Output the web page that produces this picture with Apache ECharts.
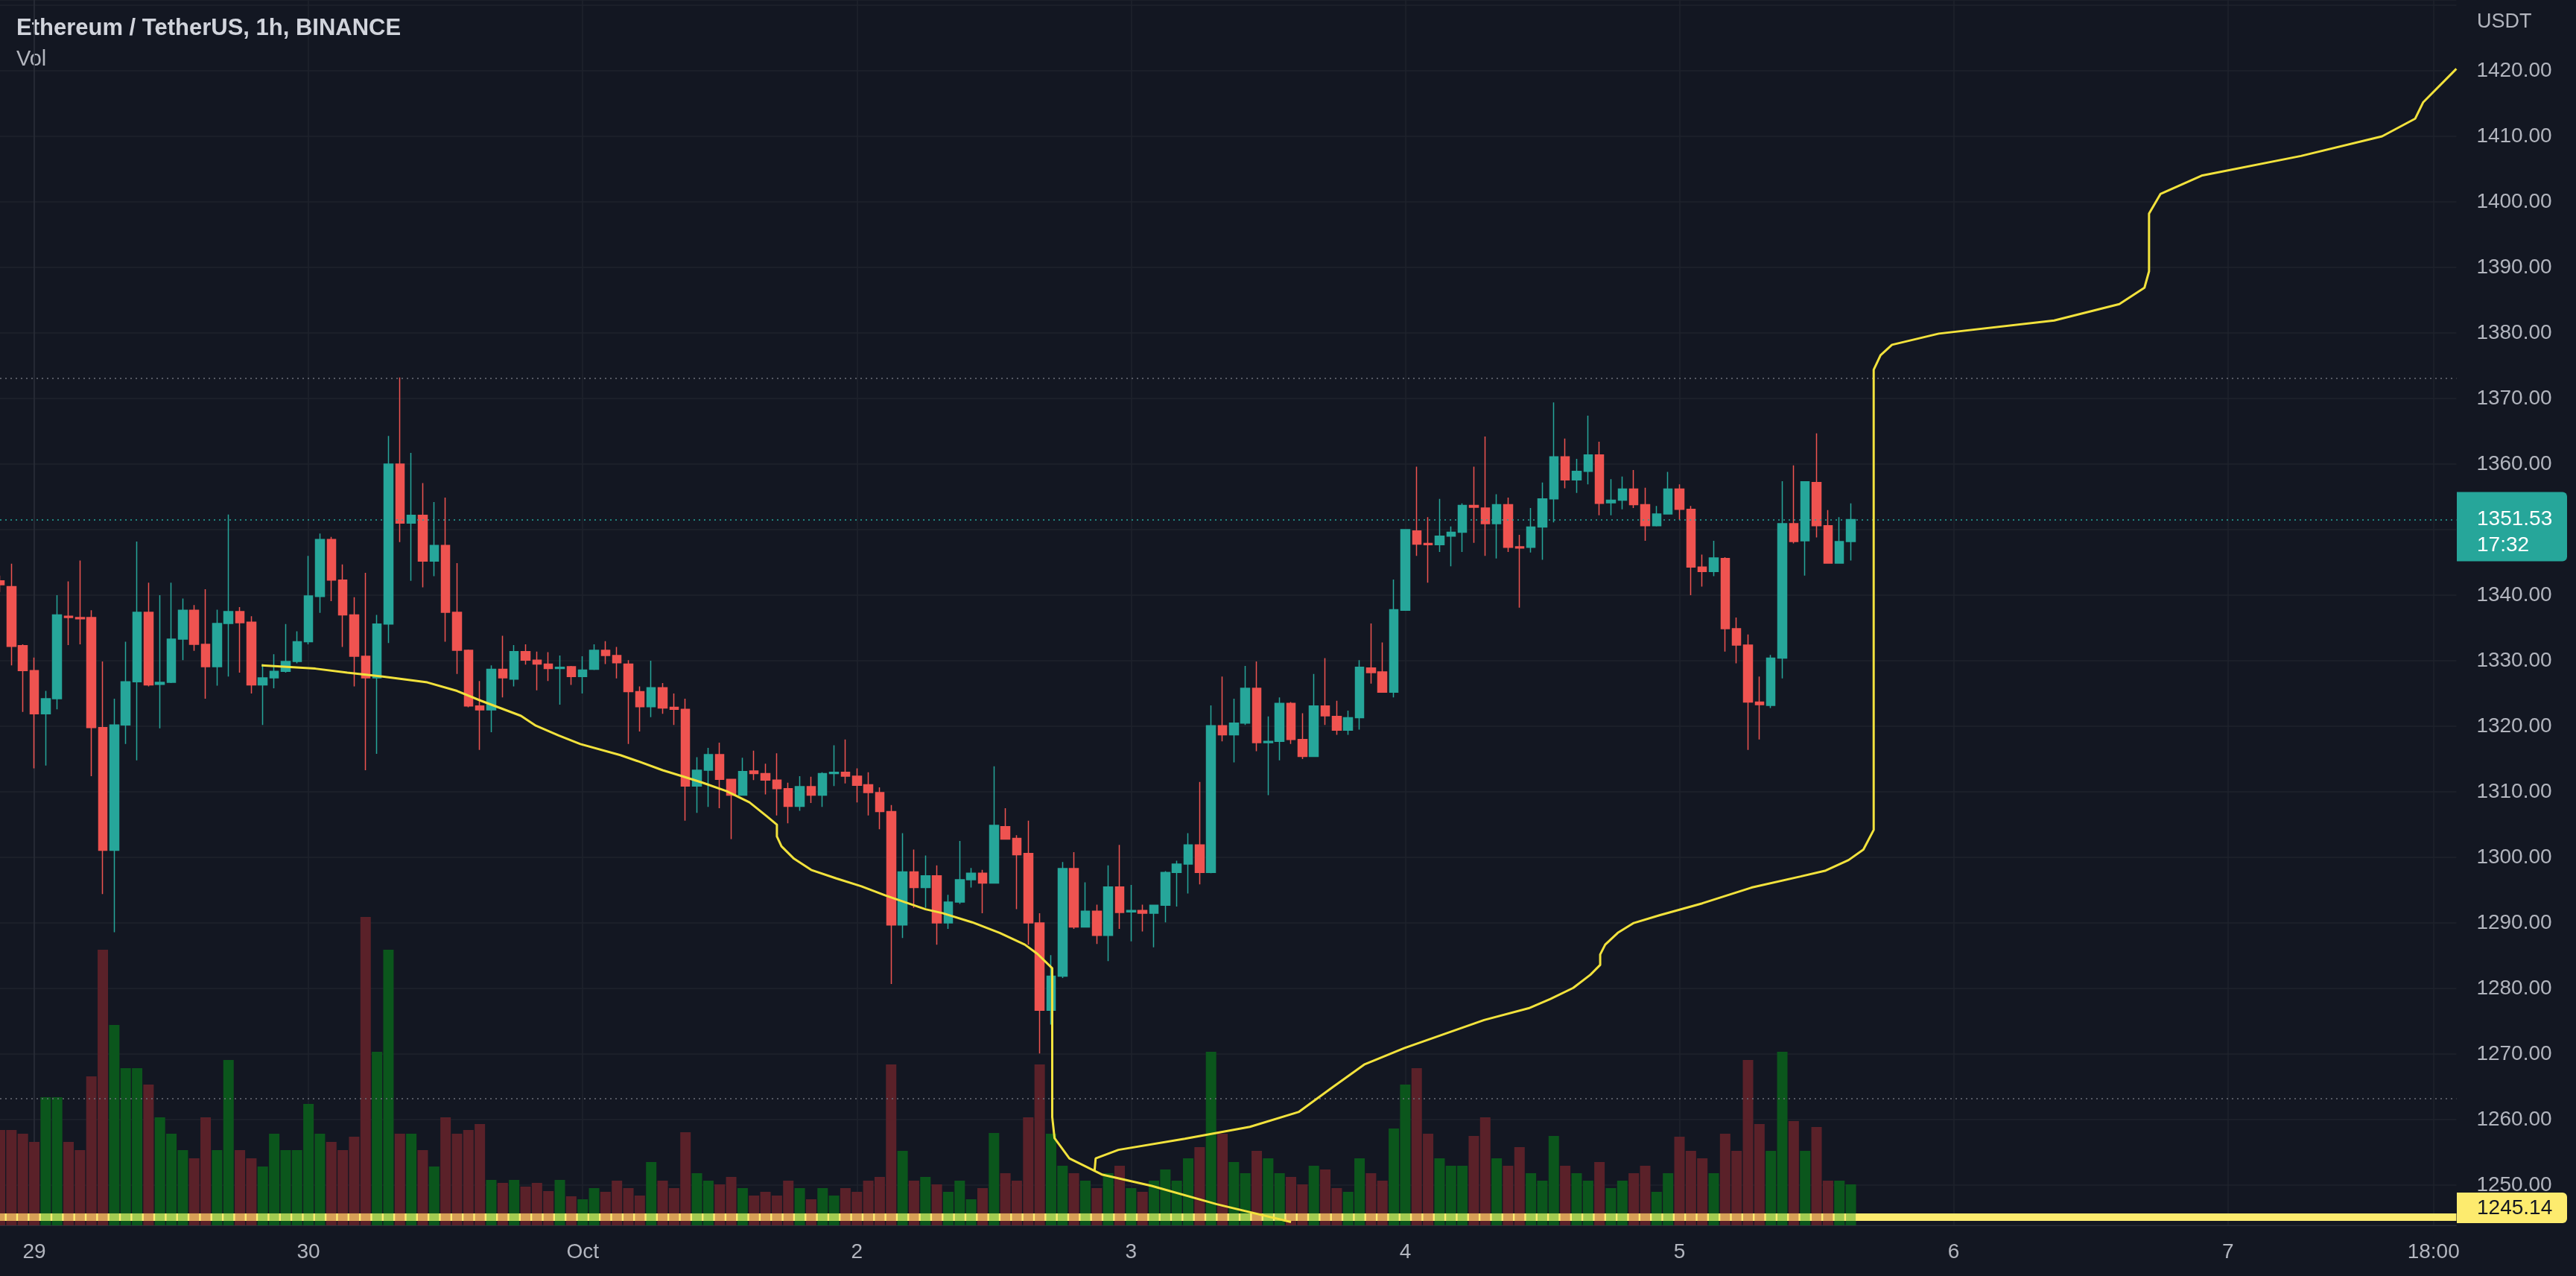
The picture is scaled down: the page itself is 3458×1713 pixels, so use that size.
<!DOCTYPE html>
<html>
<head>
<meta charset="utf-8">
<script src="https://cdn.jsdelivr.net/npm/echarts@6/dist/echarts.min.js"></script>
<style>
html,body{margin:0;padding:0;background:#131722;}
#c{width:3458px;height:1713px;}
</style>
</head>
<body>
<div id="c"></div>
<script>
// ---- data ----
// hour offsets from 29 Sep 00:00 ; first candle = -3 (28 Sep 21:00)
const firstHour = -3;
const lastHour = 212;
// candles: [open, high, low, close]
const candles = [
[1342.2,1343.0,1340.5,1341.6],
[1341.3,1344.8,1329.3,1332.2],[1332.3,1332.5,1322.2,1328.5],[1328.5,1330.5,1313.6,1321.9],[1321.9,1325.4,1314.0,1324.2],
[1324.2,1340.0,1322.6,1337.0],[1336.8,1342.1,1332.4,1336.6],[1336.6,1345.3,1332.5,1336.4],[1336.6,1337.7,1312.4,1319.8],
[1319.8,1329.9,1294.4,1301.1],[1301.1,1324.2,1288.6,1320.2],[1320.2,1332.9,1317.3,1326.8],[1326.8,1348.2,1314.8,1337.4],
[1337.4,1341.9,1326.1,1326.3],[1326.4,1340.0,1319.7,1326.7],[1326.7,1341.9,1326.6,1333.3],[1333.3,1339.5,1330.1,1337.7],
[1337.7,1338.5,1331.5,1332.5],[1332.5,1340.9,1324.2,1329.1],[1329.1,1337.8,1326.2,1335.7],[1335.7,1352.3,1327.6,1337.5],
[1337.5,1338.2,1328.2,1335.8],[1335.9,1336.8,1325.0,1326.3],[1326.3,1329.5,1320.2,1327.4],[1327.4,1331.0,1325.8,1328.4],
[1328.4,1335.6,1328.2,1329.9],[1329.9,1334.5,1329.6,1332.9],[1332.9,1346.0,1332.5,1339.9],[1339.8,1349.4,1337.3,1348.5],
[1348.5,1348.9,1339.1,1342.3],[1342.3,1344.7,1332.1,1337.0],[1337.0,1339.7,1326.1,1330.7],[1330.7,1343.4,1313.3,1327.4],
[1327.4,1337.0,1315.8,1335.6],[1335.6,1364.3,1332.7,1360.0],[1360.0,1373.2,1348.1,1351.0],[1351.0,1361.7,1342.2,1352.2],
[1352.2,1357.1,1341.2,1345.2],[1345.2,1354.2,1342.9,1347.6],[1347.6,1354.9,1332.9,1337.4],[1337.4,1344.9,1328.0,1331.6],
[1331.6,1331.7,1322.9,1323.1],[1323.1,1326.9,1316.4,1322.5],[1322.5,1329.3,1319.1,1328.7],[1328.7,1333.8,1324.4,1327.4],
[1327.2,1332.4,1326.1,1331.4],[1331.4,1332.5,1329.4,1330.1],[1330.1,1331.4,1325.5,1329.5],[1329.5,1331.3,1326.9,1328.8],
[1328.8,1330.8,1323.3,1329.0],[1329.1,1329.2,1326.3,1327.6],[1327.6,1330.7,1325.0,1328.6],[1328.7,1332.5,1328.6,1331.6],
[1331.6,1333.0,1329.5,1330.8],[1330.8,1332.1,1327.3,1329.7],[1329.5,1330.1,1317.3,1325.3],[1325.3,1326.1,1319.2,1323.0],
[1323.0,1330.0,1321.4,1325.9],[1325.9,1326.6,1321.9,1322.8],[1322.9,1325.0,1320.2,1322.6],[1322.6,1324.2,1305.6,1310.9],
[1310.9,1315.3,1306.8,1313.3],[1313.3,1316.7,1307.7,1315.7],[1315.7,1317.5,1307.5,1311.9],[1311.9,1312.0,1302.8,1309.5],
[1309.5,1315.2,1309.4,1313.1],[1313.2,1316.3,1311.8,1312.8],[1312.8,1314.3,1309.6,1311.8],[1311.8,1315.9,1306.4,1310.5],
[1310.5,1311.4,1305.2,1307.8],[1307.8,1312.4,1307.1,1310.8],[1310.8,1312.3,1308.3,1309.5],[1309.5,1313.0,1307.7,1312.8],
[1312.8,1317.1,1310.9,1313.0],[1313.0,1318.0,1311.3,1312.4],[1312.4,1313.6,1308.4,1311.0],[1311.1,1313.0,1306.4,1309.9],
[1309.9,1310.7,1304.3,1307.0],[1307.0,1308.0,1280.7,1289.7],[1289.7,1303.7,1287.7,1297.8],[1297.8,1301.2,1292.3,1295.4],
[1295.4,1300.3,1292.3,1297.2],[1297.2,1298.8,1286.7,1290.0],[1290.0,1294.3,1289.1,1293.2],[1293.2,1302.5,1292.9,1296.6],
[1296.6,1298.4,1295.4,1297.6],[1297.6,1298.1,1291.5,1296.1],[1296.1,1313.9,1296.0,1304.9],[1304.7,1307.5,1302.7,1302.8],
[1302.9,1303.4,1292.1,1300.4],[1300.6,1305.6,1286.7,1290.0],[1290.0,1291.5,1270.1,1276.7],[1276.7,1285.1,1274.5,1281.9],
[1281.9,1299.3,1281.6,1298.3],[1298.3,1300.8,1289.1,1289.4],[1289.4,1296.2,1289.4,1291.8],[1291.8,1292.8,1286.8,1288.1],
[1288.1,1298.8,1284.2,1295.5],[1295.5,1301.9,1289.1,1291.6],[1291.7,1295.8,1287.2,1291.9],[1291.9,1292.8,1288.7,1291.5],
[1291.5,1292.8,1286.3,1292.7],[1292.7,1297.9,1290.1,1297.7],[1297.7,1299.5,1292.5,1299.0],[1299.0,1303.7,1294.5,1301.9],
[1301.9,1311.5,1295.9,1297.7],[1297.7,1323.2,1297.6,1320.1],[1320.1,1327.6,1317.7,1318.7],[1318.7,1324.2,1314.5,1320.5],
[1320.5,1329.2,1320.2,1325.8],[1325.8,1329.9,1316.2,1317.5],[1317.5,1321.5,1309.5,1317.7],[1317.7,1324.4,1314.8,1323.5],
[1323.5,1323.7,1317.3,1318.0],[1318.0,1322.0,1315.0,1315.4],[1315.4,1328.0,1315.4,1323.1],[1323.1,1330.4,1320.2,1321.6],
[1321.5,1323.9,1318.7,1319.4],[1319.4,1322.4,1318.7,1321.3],[1321.3,1330.1,1319.5,1329.0],[1328.9,1335.7,1326.5,1328.2],
[1328.3,1332.8,1325.2,1325.2],[1325.2,1342.4,1324.4,1337.8],[1337.7,1350.1,1337.7,1350.0],[1349.8,1359.6,1346.0,1347.8],
[1347.9,1351.9,1341.9,1347.7],[1347.7,1354.7,1346.6,1349.0],[1349.0,1350.5,1344.4,1349.6],[1349.6,1354.0,1346.6,1353.7],
[1353.7,1359.6,1348.0,1353.4],[1353.3,1364.2,1346.0,1350.9],[1350.9,1355.4,1345.6,1353.8],[1353.8,1354.9,1346.6,1347.3],
[1347.4,1349.2,1338.1,1347.2],[1347.3,1353.3,1346.5,1350.4],[1350.4,1357.2,1345.4,1354.7],[1354.7,1369.4,1351.1,1361.1],
[1361.1,1363.9,1356.3,1357.6],[1357.6,1360.8,1355.6,1358.9],[1358.9,1367.4,1356.9,1361.4],[1361.4,1363.4,1352.2,1354.0],
[1354.1,1357.7,1352.2,1354.5],[1354.5,1358.1,1353.1,1356.2],[1356.2,1359.1,1353.3,1353.8],[1353.8,1356.4,1348.3,1350.6],
[1350.6,1353.6,1350.5,1352.4],[1352.4,1358.8,1352.4,1356.2],[1356.2,1356.9,1351.5,1353.1],[1353.1,1353.6,1340.0,1344.3],
[1344.3,1346.2,1341.3,1343.6],[1343.6,1348.3,1342.9,1345.7],[1345.6,1345.8,1331.4,1334.9],[1334.9,1336.6,1329.6,1332.4],
[1332.4,1334.0,1316.4,1323.7],[1323.7,1327.6,1318.0,1323.3],[1323.2,1330.9,1322.8,1330.4],[1330.4,1357.4,1327.3,1350.9],
[1350.9,1359.8,1347.9,1348.2],[1348.3,1357.3,1343.0,1357.3],[1357.2,1364.7,1348.8,1350.6],[1350.6,1353.0,1344.9,1344.9],
[1344.9,1351.9,1344.9,1348.2],[1348.2,1354.0,1345.3,1351.53]
];
const volumes = [
12.8,12.8,12.3,11.2,17.2,17.2,11.2,10.1,20.0,37.0,26.9,21.1,21.1,18.9,14.5,12.3,10.1,9.0,14.5,10.1,22.2,10.1,9.0,7.9,12.3,10.1,10.1,
16.3,12.3,11.2,10.1,11.9,41.4,23.3,37.0,12.3,12.3,10.1,7.9,14.5,12.3,12.8,13.6,6.1,5.7,6.1,5.2,5.7,4.6,6.1,3.9,3.5,
5,4.5,6,5,4,8.5,6,5,12.5,7,6,5.5,6.5,5,4,4.5,4,6,5,3.5,5,4,5,4.5,6,6.5,21.6,10,6,6.5,5.5,4.5,6,3.5,5,12.4,7,6,14.5,21.6,12.3,
8,7,6,5,7,8,5,4.5,6,7.5,6,9,10.5,23.3,12.3,8.5,7,10,9,7,6.5,5.5,8,7.5,5,4.5,9,7,6,13,18.9,21.1,12.3,9,8,8,12,14.5,9,8,10.5,7,
6,12,8,7,6,8.5,5,6,7,8,4.5,7,11.9,10,9,7,12.3,10,22.2,13.6,10,23.3,14,10,13.2,6,6,5.5
];
// yellow curve, [hour, price]
const curveA = [
[19.9,1329.3],[24.6,1328.8],[27.4,1328.2],[30.5,1327.6],[34.4,1326.7],[37.0,1325.4],[39.1,1323.9],[42.6,1321.6],[43.9,1320.1],
[45.9,1318.6],[47.8,1317.3],[51.3,1315.6],[52.8,1314.7],[55.0,1313.3],[56.7,1312.4],[58.5,1311.4],[60.6,1310.1],[62.6,1308.4],
[64.1,1306.3],[65.0,1305.0],[65.0,1303.2],[65.4,1301.7],[66.5,1299.8],[68.0,1298.1],[70.2,1296.8],[72.4,1295.6],[74.5,1294.2],
[78.0,1292.1],[79.5,1291.5],[82.1,1290.1],[84.5,1288.5],[86.7,1286.7],[87.8,1285.3],[89.1,1283.1],[89.1,1260.4],[89.3,1257.2],
[90.6,1254.1],[93.5,1251.6],[97.8,1249.9],[103.5,1247.1],[110,1244.4]
];
const curveB = [
[92.8,1252.1],[92.9,1254.1],[94.9,1255.4],[100.7,1257.1],[106.4,1258.9],[110.7,1261.2],[113.6,1264.9],[116.4,1268.4],
[119.9,1270.9],[126.9,1275.2],[130.8,1277.0],[132.7,1278.4],[134.7,1280.1],[136.2,1282.1],[137.06,1283.6],[137.06,1285.2],
[137.5,1286.7],[138.6,1288.5],[140.0,1290.0],[142.3,1291.2],[146.0,1293.0],[150.3,1295.4],[154.6,1297.1],[156.8,1298.0],
[158.8,1299.6],[160.1,1301.2],[161.0,1304.2],[161.0,1374.4],[161.6,1376.6],[162.6,1378.2],[166.7,1379.9],[176.8,1381.9],[182.5,1384.4],
[184.7,1386.9],[185.1,1389.4],[185.1,1398.2],[186.1,1401.2],[189.7,1404.0],[198.4,1407.0],[205.5,1410.0],[208.4,1412.7],
[209.1,1415.2],[212.0,1420.3]
];
const tickLabels = {0:'29',24:'30',48:'Oct',72:'2',96:'3',120:'4',144:'5',168:'6',192:'7',210:'18:00'};
const lastPrice = 1351.53;
const countdown = '17:32';
const bandPrice = 1245.14;
const dottedGrey = [1373.1, 1263.2];
const title = 'Ethereum / TetherUS, 1h, BINANCE';

// ---- build ----
const cats = [];
for (let h = firstHour; h <= lastHour; h++) cats.push(h);
const UP = '#26a69a', DOWN = '#ef5350';
const kData = candles.map(r => [r[0], r[3], r[2], r[1]]);
const isUp = candles.map(r => r[3] >= r[0]);
const volData = volumes.map((v, i) => ({value: v, itemStyle: {color: isUp[i] ? '#0b561c' : '#5a2129'}}));
const bandRects = candles.map((r, i) => ({value: [i, bandPrice], itemStyle: {color: isUp[i] ? '#8bc34a' : '#cd8c50'}}));

const chart = echarts.init(document.getElementById('c'), null, {renderer: 'canvas'});
const FONT = 'Liberation Sans';
const gridLeft = -3.76, gridRight = 3458 - 3297.4;
const option = {
  animation: false,
  backgroundColor: '#131722',
  textStyle: {fontFamily: FONT},
  grid: {left: gridLeft, right: gridRight, top: 0, bottom: 1713 - 1645},
  xAxis: [{
    type: 'category', data: cats, boundaryGap: false,
    axisLine: {show: true, lineStyle: {color: '#2a2e39', width: 1}},
    axisTick: {show: false},
    axisLabel: {
      interval: (i, v) => tickLabels[v] !== undefined,
      formatter: v => tickLabels[v] || '',
      color: '#b2b5be', fontSize: 28, margin: 22, fontFamily: FONT
    },
    splitLine: {show: true, interval: (i, v) => tickLabels[v] !== undefined, lineStyle: {color: '#1f232d', width: 1.5}}
  }, {
    type: 'value', min: firstHour, max: lastHour, show: false
  }],
  yAxis: [{
    type: 'value', position: 'right', min: 1243.88, max: 1430.79,
    minInterval: 10, maxInterval: 10, splitNumber: 19, scale: true,
    axisLine: {show: true, lineStyle: {color: '#2a2e39', width: 1.5}},
    axisTick: {show: false},
    axisLabel: {
      showMinLabel: false, showMaxLabel: false,
      formatter: v => (v > 1425 || v < 1249) ? '' : v.toFixed(2),
      color: '#b2b5be', fontSize: 28, margin: 27, fontFamily: FONT, align: 'left'
    },
    splitLine: {show: true, lineStyle: {color: '#1f232d', width: 1.5}}
  }, {
    type: 'value', min: 0, max: 164.5, show: false, splitLine: {show: false}
  }],
  series: [
    {type: 'bar', name: 'Vol', xAxisIndex: 0, yAxisIndex: 1, data: volData, barWidth: 14, z: 1},
    {type: 'candlestick', name: 'ETHUSDT', xAxisIndex: 0, yAxisIndex: 0, data: kData, barWidth: 12, z: 3,
      itemStyle: {color: UP, color0: DOWN, borderColor: UP, borderColor0: DOWN, borderWidth: 1.5},
      markLine: {
        silent: true, symbol: ['none', 'none'], label: {show: false},
        data: [
          {yAxis: dottedGrey[0], lineStyle: {color: '#6d707a', width: 1.5, type: [2, 5]}},
          {yAxis: dottedGrey[1], lineStyle: {color: '#6d707a', width: 1.5, type: [2, 5]}},
          {yAxis: lastPrice, lineStyle: {color: UP, width: 1.5, type: [2, 5]}}
        ]
      }
    },
    {type: 'line', xAxisIndex: 1, yAxisIndex: 0, data: [[firstHour, bandPrice], [lastHour, bandPrice]],
      symbol: 'none', lineStyle: {color: '#fdeb6e', width: 10}, z: 4, silent: true},
    {type: 'scatter', xAxisIndex: 0, yAxisIndex: 0, data: bandRects, symbol: 'rect', symbolSize: [13, 10], z: 5, silent: true},
    {type: 'line', xAxisIndex: 1, yAxisIndex: 0, data: curveA, symbol: 'none', lineStyle: {color: '#f2e23c', width: 3}, z: 6, silent: true},
    {type: 'line', xAxisIndex: 1, yAxisIndex: 0, data: curveB, symbol: 'none', lineStyle: {color: '#f2e23c', width: 3}, z: 6, silent: true}
  ]
};
chart.setOption(option);

const yLast = chart.convertToPixel({yAxisIndex: 0}, lastPrice);
const axisX = 3298;
chart.setOption({
  graphic: [
    {type: 'text', left: 22, top: 41 - 18, style: {text: title, fill: '#d1d4dc', font: 'bold 31px "Liberation Sans"'}},
    {type: 'text', left: 22, top: 82 - 17, style: {text: 'Vol', fill: '#b2b5be', font: '29px "Liberation Sans"'}},
    {type: 'text', left: 3325, top: 31 - 15, style: {text: 'USDT', fill: '#b2b5be', font: '27px "Liberation Sans"'}},
    {type: 'rect', shape: {x: axisX, y: yLast - 37, width: 148, height: 93, r: [0, 6, 6, 0]}, style: {fill: UP}, z: 100},
    {type: 'text', x: 3325, y: yLast, style: {text: lastPrice.toFixed(2), fill: '#ffffff', font: '28px "Liberation Sans"', textVerticalAlign: 'middle'}, z: 101},
    {type: 'text', x: 3325, y: yLast + 35, style: {text: countdown, fill: '#ffffff', font: '28px "Liberation Sans"', textVerticalAlign: 'middle'}, z: 101},
    {type: 'rect', shape: {x: axisX, y: 1601, width: 148, height: 41, r: [0, 6, 6, 0]}, style: {fill: '#fdeb6e'}, z: 100},
    {type: 'text', x: 3325, y: 1622, style: {text: bandPrice.toFixed(2), fill: '#131722', font: '28px "Liberation Sans"', textVerticalAlign: 'middle'}, z: 101}
  ]
});
</script>
</body>
</html>
